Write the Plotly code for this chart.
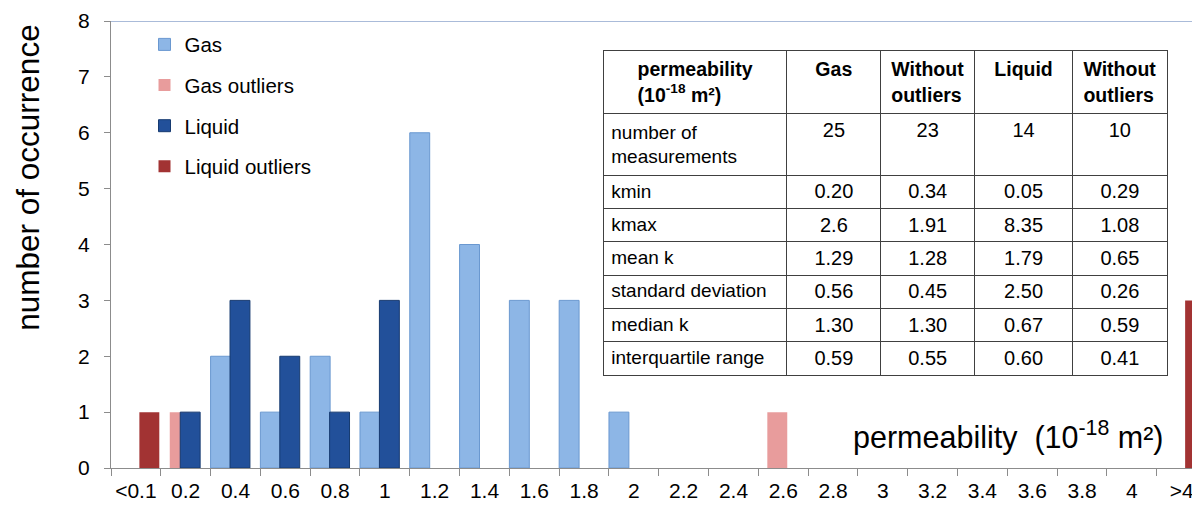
import plotly.graph_objects as go

# Permeability classes (upper bound of each 0.2 wide bin)
categories = ["<0.1", "0.2", "0.4", "0.6", "0.8", "1", "1.2", "1.4", "1.6", "1.8",
              "2", "2.2", "2.4", "2.6", "2.8", "3", "3.2", "3.4", "3.6", "3.8", "4", ">4"]

# Number of occurrences per class
gas              = [0, 0, 2, 1, 2, 1, 6, 4, 3, 3, 1, 0, 0, 0, 0, 0, 0, 0, 0, 0, 0, 0]
gas_outliers     = [0, 1, 0, 0, 0, 0, 0, 0, 0, 0, 0, 0, 0, 1, 0, 0, 0, 0, 0, 0, 0, 0]
liquid           = [0, 1, 3, 2, 1, 3, 0, 0, 0, 0, 0, 0, 0, 0, 0, 0, 0, 0, 0, 0, 0, 0]
liquid_outliers  = [1, 0, 0, 0, 0, 0, 0, 0, 0, 0, 0, 0, 0, 0, 0, 0, 0, 0, 0, 0, 0, 3]

# Summary statistics table
table_header = ["<b>permeability<br>(10<sup>-18</sup> m²)</b>", "<b>Gas</b>",
                "<b>Without<br>outliers</b>", "<b>Liquid</b>", "<b>Without<br>outliers</b>"]
stat_names = ["number of<br>measurements", "kmin", "kmax", "mean k",
              "standard\u00a0deviation", "median k", "interquartile\u00a0range"]
stat_gas = ["25", "0.20", "2.6", "1.29", "0.56", "1.30", "0.59"]
stat_gas_wo = ["23", "0.34", "1.91", "1.28", "0.45", "1.30", "0.55"]
stat_liquid = ["14", "0.05", "8.35", "1.79", "2.50", "0.67", "0.60"]
stat_liquid_wo = ["10", "0.29", "1.08", "0.65", "0.26", "0.59", "0.41"]

FONT = "Liberation Sans, Arial, sans-serif"
BAR_W = 0.40


def nz(values):
    return [v if v else None for v in values]


series = [
    ("Gas", gas, "#8DB6E6", "#6A98D0", 1, -0.50),
    ("Gas outliers", gas_outliers, "#E89C9C", "#E89C9C", 0, -0.32),
    ("Liquid", liquid, "#22509A", "#163A70", 1, -0.11),
    ("Liquid outliers", liquid_outliers, "#A23333", "#A23333", 0, 0.07),
]

fig = go.Figure()
for name, vals, fill, edge, lw, off in series:
    fig.add_trace(go.Bar(
        x=categories, y=nz(vals), name=name,
        width=BAR_W, offset=off,
        marker=dict(color=fill, line=dict(color=edge, width=lw)),
        legendgroup=name,
    ))

fig.add_trace(go.Table(
    domain=dict(x=[0.4554, 0.9778], y=[0.198, 0.9345]),
    columnwidth=[184, 94, 94, 98, 95],
    header=dict(
        values=table_header,
        align="center",
        height=63,
        fill_color="white",
        line=dict(color="#404040", width=1),
        font=dict(family=FONT, size=19.5, color="black"),
    ),
    cells=dict(
        values=[stat_names, stat_gas, stat_gas_wo, stat_liquid, stat_liquid_wo],
        align=["left", "center", "center", "center", "center"],
        height=33.3,
        fill_color="white",
        line=dict(color="#404040", width=1),
        font=dict(family=FONT, size=[19, 20, 20, 20, 20], color="black"),
    ),
))

fig.update_layout(
    template="none",
    width=1192, height=506,
    margin=dict(l=110.5, r=0, t=20.7, b=37.7, pad=0),
    paper_bgcolor="white", plot_bgcolor="white",
    barmode="overlay",
    font=dict(family=FONT, color="black"),
    showlegend=True,
    legend=dict(
        x=0.031, y=0.992, xanchor="left", yanchor="top",
        bgcolor="rgba(0,0,0,0)",
        font=dict(family=FONT, size=20.5, color="black"),
        tracegroupgap=11,
        itemwidth=30,
    ),
    xaxis=dict(
        type="category",
        range=[-0.5, 21.208],
        tickson="boundaries",
        ticks="outside", ticklen=7, tickcolor="#8C8C8C", tickwidth=1,
        showline=True, linecolor="#8C8C8C", linewidth=1,
        showgrid=False, zeroline=False,
        tickangle=0,
        tickfont=dict(family=FONT, size=21, color="black"),
        ticklabelstandoff=4,
        automargin=False,
    ),
    yaxis=dict(
        range=[0, 8],
        tickvals=[0, 1, 2, 3, 4, 5, 6, 7, 8],
        ticks="outside", ticklen=6, tickcolor="#8C8C8C", tickwidth=1,
        showline=True, linecolor="#8C8C8C", linewidth=1,
        showgrid=False, zeroline=False,
        tickfont=dict(family=FONT, size=21, color="black"),
        ticklabelstandoff=10,
        automargin=False,
    ),
    shapes=[
        dict(type="line", xref="paper", yref="y", x0=0, x1=1, y0=8, y1=8,
             line=dict(color="#8EA4CC", width=1.5)),
    ],
    annotations=[
        dict(text="number of occurrence", xref="paper", yref="paper",
             x=-0.0765, y=0.65, xanchor="center", yanchor="middle",
             textangle=-90, showarrow=False,
             font=dict(family=FONT, size=31.5, color="black")),
        dict(text="permeability\u00a0 (10<sup>-18</sup> m²)", xref="paper", yref="paper",
             x=0.976, y=0.025, xanchor="right", yanchor="bottom",
             showarrow=False,
             font=dict(family=FONT, size=30.5, color="black")),
    ],
)

fig.write_html("out.html")
